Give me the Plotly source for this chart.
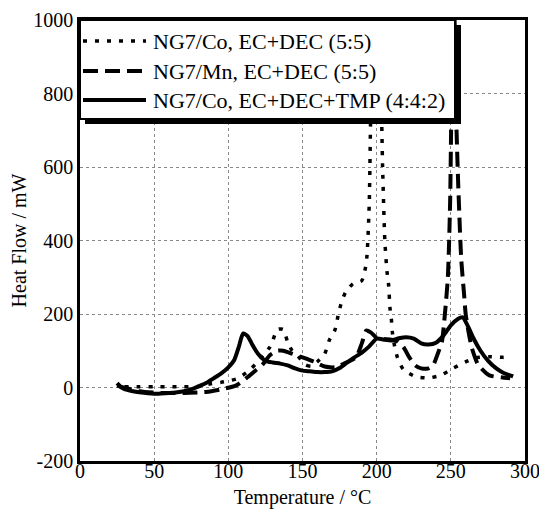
import plotly.graph_objects as go

# ---- data ----
t_co = [30, 40, 50, 60, 70, 80, 88, 95, 100, 106, 112, 118, 124, 128, 130, 133, 137, 140, 143, 147,
        152, 156, 160, 165, 168, 172, 174, 176, 179, 184, 190, 192.5, 193.5, 195, 196, 198, 200.5,
        203, 204, 205.5, 207, 208, 209, 210, 210.6, 212, 214, 218, 226, 235, 243, 251, 259.6, 266,
        276, 285, 290]
h_co = [2, 2, 2, 2, 2, 3, 10, 14, 18, 24, 40, 62, 90, 110, 128, 158, 158, 123, 100, 85,
        62, 58, 70, 92, 128, 158, 196, 228, 259, 282, 291, 327, 360, 500, 750, 1050, 1100,
        800, 600, 400, 314, 282, 215, 182, 150, 114, 82, 49, 30, 26, 33, 51, 69, 80,
        84, 82, 82]

t_mn = [25, 40, 55, 70, 85, 95, 105, 112, 118, 123, 128, 133, 137, 143, 150, 158, 165, 172, 178,
        186, 190, 193, 196, 200, 205, 210, 214, 218, 222, 226, 230, 235, 238, 241, 244, 246, 248,
        249.5, 250.5, 252, 253.5, 255, 257, 259, 260, 262, 264, 266, 268, 271, 276, 285, 290]
h_mn = [5, -10, -15, -15, -12, -5, 5, 25, 45, 62, 88, 100, 100, 92, 82, 70, 57, 55, 65,
        82, 120, 155, 150, 135, 132, 130, 125, 110, 82, 60, 52, 52, 60, 90, 125, 200, 300,
        500, 800, 1100, 750, 550, 350, 250, 200, 150, 110, 85, 65, 50, 33, 27, 25]

t_tmp = [25, 28, 33, 40, 50, 60, 70, 75, 80, 85, 90, 95, 100, 104, 107, 110, 113, 116, 120, 125,
         130, 135, 140, 145, 150, 155, 160, 165, 170, 175, 180, 185, 190, 195, 200, 205, 210, 215,
         220, 225, 230, 235, 240, 245, 250, 255, 258, 262, 265, 270, 275, 280, 285, 292]
h_tmp = [12, 0, -8, -13, -17, -15, -10, -5, 3, 12, 25, 38, 55, 75, 110, 147, 140, 118, 92, 73,
         68, 65, 60, 52, 46, 44, 42, 42, 44, 53, 68, 82, 95, 112, 133, 130, 128, 134,
         137, 133, 120, 117, 122, 141, 169, 187, 191, 163, 136, 100, 73, 54, 41, 30]

names = ["NG7/Co, EC+DEC (5:5)", "NG7/Mn, EC+DEC (5:5)", "NG7/Co, EC+DEC+TMP (4:4:2)"]
x_ticks = [0, 50, 100, 150, 200, 250, 300]
y_ticks = [-200, 0, 200, 400, 600, 800, 1000]

DOT = "4px,8px"
DASH = "15px,7px"
styles = [dict(dash=DOT, width=3.5), dict(dash=DASH, width=4), dict(dash="solid", width=4)]

fig = go.Figure()
for tx, hy, nm, st in zip([t_co, t_mn, t_tmp], [h_co, h_mn, h_tmp], names, styles):
    fig.add_trace(go.Scatter(x=tx, y=hy, mode="lines", name=nm, showlegend=False,
                             line=dict(color="black", width=st["width"], dash=st["dash"],
                                       shape="spline", smoothing=0.6)))

# layout geometry
W, H = 539, 513
L, R, T, B = 80, 14, 20, 52
pw, ph = W - L - R, H - T - B

def px2paper(px, py):
    return (px - L) / pw, (H - B - py) / ph

serif = "Liberation Serif, Times New Roman, serif"

fig.update_layout(
    width=W, height=H,
    margin=dict(l=L, r=R, t=T, b=B, autoexpand=False),
    paper_bgcolor="white", plot_bgcolor="white",
    font=dict(family=serif, size=20, color="black"),
    xaxis=dict(range=[0, 300], tickvals=x_ticks, ticktext=[str(v) for v in x_ticks],
               showgrid=True, gridcolor="#888", griddash="dot", gridwidth=1,
               showline=True, linecolor="black", linewidth=2.5, mirror=True,
               ticks="", zeroline=False, automargin=False, ticklabeloverflow="allow",
               ticklabelstandoff=-10,
               title=dict(text="Temperature / °C", font=dict(size=20), standoff=10)),
    yaxis=dict(range=[-200, 1000], tickvals=y_ticks, ticktext=[str(v) for v in y_ticks],
               showgrid=True, gridcolor="#888", griddash="dot", gridwidth=1,
               showline=True, linecolor="black", linewidth=2.5, mirror=True,
               ticks="", zeroline=False, automargin=False, ticklabeloverflow="allow",
               title=dict(text="Heat Flow / mW", font=dict(size=20), standoff=2)),
)

# legend box with drop shadow (drawn manually for exact placement)
sx0, sy0 = px2paper(85, 124)
sx1, sy1 = px2paper(461, 25)
fig.add_shape(type="rect", xref="paper", yref="paper", x0=sx0, y0=sy0, x1=sx1, y1=sy1,
              fillcolor="black", line=dict(width=0), layer="above")
bx0, by0 = px2paper(80, 119)
bx1, by1 = px2paper(455, 20)
fig.add_shape(type="rect", xref="paper", yref="paper", x0=bx0, y0=by0, x1=bx1, y1=by1,
              fillcolor="white", line=dict(color="black", width=2), layer="above")

rows_y = [41, 71, 100]
for nm, st, ry in zip(names, styles, rows_y):
    lx0, ly = px2paper(83, ry)
    lx1, _ = px2paper(146, ry)
    fig.add_shape(type="line", xref="paper", yref="paper", x0=lx0, y0=ly, x1=lx1, y1=ly,
                  line=dict(color="black", width=st["width"], dash=st["dash"]), layer="above")
    tx, ty = px2paper(151, ry)
    fig.add_annotation(xref="paper", yref="paper", x=tx, y=ty, text=nm, showarrow=False,
                       xanchor="left", yanchor="middle", font=dict(family=serif, size=22))

fig.write_html("out.html")
